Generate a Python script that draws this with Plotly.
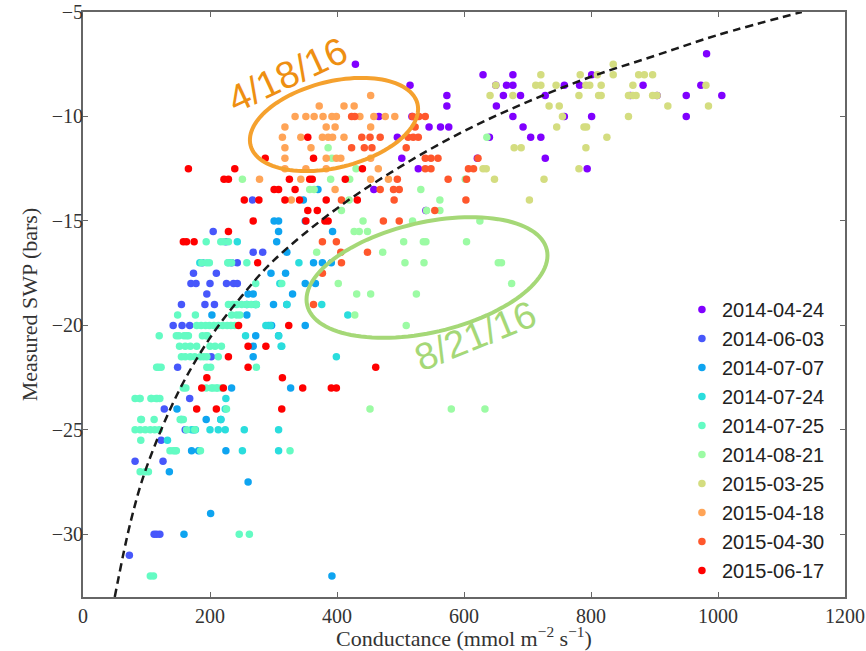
import math
import plotly.graph_objects as go

# ---------------- data ----------------
series_names = ["2014-04-24", "2014-06-03", "2014-07-07", "2014-07-24", "2014-07-25",
                "2014-08-21", "2015-03-25", "2015-04-18", "2015-04-30", "2015-06-17"]
series_colors = ["#8000ff", "#4757fb", "#0ea4f0", "#2adddd", "#64fbc3",
                 "#9cfba4", "#d4dd80", "#ffa457", "#ff572c", "#ff0000"]

d20140424 = [(429,-7.5),(515,-8.5),(573,-9),(573,-9.5),(518,-10),(466,-10),(545,-10.5),(563,-10.5),
             (576,-10.5),(495,-11),(502,-12),(528,-12.5),(458,-13.5),(630,-8),(651,-9.5),(640,-11),
             (621,-12),(540,-14.5),(677,-8),(650,-8.5),(667,-8.5),(677,-8.5),(662,-9),(689,-9),
             (801,-8),(758,-8.5),(782,-8.5),(728,-9),(862,-9),(882,-8.5),(904,-9),(950,-9),
             (973,-8.5),(1006,-9),(982,-7),(677,-10),(693,-10.5),(801,-10),(758,-10),(950,-10),
             (721,-11),(705,-11),(728,-12),(794,-12.5)]
d20140603 = [(205,-15.5),(225,-16),(268,-16.5),(283,-16.5),(174,-17.5),(210,-17.5),(170,-18),
             (178,-18),(200,-18),(226,-18),(237,-18),(243,-18),(195,-18.5),(155,-19),(192,-19),
             (207,-19),(267,-14),(234,-17),(243,-17),(188,-17),(142,-20),(156,-20),(168,-20),
             (202,-21.5),(149,-22),(168,-23.5),(128,-24),(161,-25),(123,-25.5),(82,-26.5),
             (126,-26.5),(112,-30),(116,-30),(121,-30),(73,-31)]
d20140707 = [(370,-13.5),(301,-15),(308,-15),(350,-15),(308,-15.5),(393,-15.5),(305,-16),
             (321,-16.5),(319,-17.5),(296,-17.5),(363,-17),(377,-17),(391,-17),(350,-18),
             (366,-18),(260,-18.5),(268,-18.5),(330,-18.5),(300,-19),(258,-19),(321,-19),
             (347,-14),(350,-20),(203,-19.5),(258,-19.5),(292,-20),(297,-20),(272,-20.5),
             (308,-20.5),(268,-21),(268,-21.5),(234,-23),(327,-23),(148,-24),(194,-24.5),
             (217,-24.5),(174,-25),(171,-26),(182,-26),(225,-26),(136,-27),(260,-27.5),
             (201,-29),(159,-30),(392,-32)]
d20140724 = [(243,-16),(184,-17),(229,-17),(340,-17),(321,-19),(376,-19),(273,-19),(310,-18),
             (417,-19.5),(399,-21.5),(312,-21),(225,-23.5),(256,-20.5),(295,-20),(271,-19),
             (224,-24),(200,-25),(213,-25),(224,-25),(254,-25),(308,-25),(313,-21),(308,-20.5),
             (217,-24.5),(171,-25),(177,-25),(133,-25.5),(251,-26),(308,-26),(155,-24.5),(288,-20)]
d20140725 = [(194,-16),(222,-16),(229,-16),(217,-16),
             (187,-17),(195,-17),(199,-17),(228,-17),(234,-17),(258,-17),
             (272,-18),(313,-18),
             (229,-19),(236,-19),(242,-19),(250,-19),(258,-19),(265,-19),(273,-19),
             (149,-19.5),(177,-19.5),(234,-19.5),(242,-19.5),(247,-19.5),
             (179,-20),(186,-20),(193,-20),(199,-20),(206,-20),(213,-20),(220,-20),(227,-20),(233,-20),(239,-20),
             (120,-20.5),(147,-20.5),(151,-20.5),(159,-20.5),(163,-20.5),(166,-20.5),(188,-20.5),(194,-20.5),(196,-20.5),
             (152,-21),(161,-21),(169,-21),(179,-21),(200,-21),(208,-21),(218,-21),
             (155,-21.5),(161,-21.5),(169,-21.5),(176,-21.5),(185,-21.5),(190,-21.5),(195,-21.5),(213,-21.5),
             (116,-22),(119,-22),(123,-22),(195,-22),(201,-22),(273,-22),
             (158,-23),(162,-23),(194,-23),(202,-23),(205,-23),(210,-23),(212,-23),(218,-23),
             (82,-23.5),(89,-23.5),(90,-23.5),(107,-23.5),(108,-23.5),(115,-23.5),(117,-23.5),(121,-23.5),
             (226,-24),
             (91,-24.5),(92,-24.5),(112,-24.5),(153,-24.5),(155,-24.5),(158,-24.5),
             (82,-25),(90,-25),(98,-25),(106,-25),(113,-25),(120,-25),(163,-25),(176,-25),
             (91,-25.5),
             (137,-26),(142,-26),(145,-26),(147,-26),(185,-26),(326,-26),
             (90,-27),(98,-27),(103,-27),
             (246,-30),(262,-30),
             (106,-32),(111,-32)]
d20140821 = [(386,-11.5),(392,-12),(251,-13),(390,-13),(357,-13.5),(364,-13.5),(532,-13.5),
             (407,-14.5),(430,-12.5),(562,-14),(541,-14.5),(419,-14),(420,-13),(602,-13),
             (636,-11),(562,-14.5),(441,-15),(519,-15),(427,-15.5),(435,-15.5),(448,-15.5),
             (368,-16.5),(472,-16.5),(505,-16),(536,-16),(540,-16),(604,-16),(507,-17),
             (537,-17),(654,-17),(659,-17),(402,-18),(431,-18.5),(453,-18.5),(525,-18.5),
             (428,-19.5),(509,-20),(452,-24),(580,-24),(633,-24),(675,-18),(625,-15)]
d20150325 = [(721,-8),(783,-8),(810,-8),(835,-7.5),(835,-8),(875,-8),(884,-8),(897,-8),
             (650,-8.5),(713,-8.5),(721,-8.5),(745,-8.5),(792,-8.5),(798,-8.5),(816,-8.5),
             (866,-8.5),(981,-8.5),(641,-9),(677,-9),(781,-9),(812,-9),(816,-9),(859,-9),
             (866,-9),(871,-9),(897,-9),(904,-9),(734,-9.5),(750,-9.5),(921,-9.5),(985,-9.5),
             (755,-10),(859,-10),(746,-10.5),(789,-10.5),(793,-10.5),(825,-11),(679,-11.5),
             (690,-11.5),(792,-11.5),(630,-12.5),(635,-12.5),(781,-12.5),(648,-13),(726,-13),
             (703,-14)]
d20150418 = [(453,-9),(372,-9.5),(411,-9.5),(427,-9.5),(334,-10),(351,-10),(364,-10),(378,-10),
             (392,-10),(399,-10),(436,-10),(458,-10),(476,-10),(491,-10),(318,-10.5),(383,-10.5),
             (397,-10.5),(453,-10.5),(314,-11),(343,-11),(377,-11),(386,-11),(393,-11),(411,-11),
             (318,-11.5),(359,-11.5),(318,-12),(383,-12),(399,-12),(406,-12),(453,-12),(318,-12.5),
             (351,-12.5),(383,-12.5),(465,-12.5),(278,-13),(343,-13),(453,-13),(481,-13),
             (397,-13.5),(328,-14)]
d20150430 = [(423,-10),(428,-10),(519,-10),(529,-10),(539,-10),(523,-10.5),(439,-11),(452,-11),
             (468,-11),(512,-11),(520,-11),(528,-11),(423,-11.5),(443,-11.5),(455,-11.5),
             (509,-11.5),(539,-12),(548,-12),(559,-12),(622,-12),(539,-12.5),(548,-12.5),
             (607,-12.5),(615,-12.5),(495,-13),(575,-13),(604,-13),(468,-13.5),(498,-13.5),
             (489,-13.5),(490,-14),(603,-14),(407,-14),(554,-14.5),(473,-15),(498,-15),
             (377,-16),(399,-16),(406,-16.5),(448,-16.5),(407,-17),(377,-17.5),(363,-19)]
d20150617 = [(166,-12.5),(239,-12.5),(354,-11),(287,-12),(363,-12),(222,-13),(229,-13),(325,-13),
             (357,-13),(361,-13),(413,-13),(440,-12.5),(301,-13.5),(308,-13.5),(334,-13.5),
             (254,-14),(277,-14),(318,-14),(341,-14),(383,-14),(432,-14),(354,-14.5),(369,-14.5),
             (351,-15),(381,-15),(386,-15),(268,-15),(229,-15.5),(158,-16),(163,-16),(175,-16),
             (275,-17),(245,-20),(324,-20),(260,-21),(288,-21),(229,-21.5),(260,-22),(461,-22),
             (195,-22.5),(314,-22.5),(187,-23),(221,-23),(346,-23),(391,-23),(399,-23),
             (179,-24),(210,-24),(313,-24)]

series_data = [d20140424, d20140603, d20140707, d20140724, d20140725,
               d20140821, d20150325, d20150418, d20150430, d20150617]

# dashed fit line
curve_x = [50, 75, 100, 150, 200, 250, 300, 400, 500, 600, 700, 800, 900, 1000, 1132]
curve_y = [-33.0, -29.4, -26.8, -23.2, -20.6, -18.6, -16.9, -14.4, -12.4, -10.7, -9.3, -8.1, -7.1, -6.1, -5.0]

x_ticks = [0, 200, 400, 600, 800, 1000, 1200]
y_ticks = [-30, -25, -20, -15, -10, -5]
x_range = [0, 1200]
y_range = [-33, -5]

# ---------------- layout geometry ----------------
W, H = 866, 651
ML, MR, MT, MB = 83, 21, 12, 54
PW, PH = W - ML - MR, H - MT - MB
sx = PW / (x_range[1] - x_range[0])   # px per x unit
sy = PH / (y_range[1] - y_range[0])   # px per y unit


def px_to_x(px):
    return x_range[0] + (px - ML) / sx


def py_to_y(py):
    return y_range[1] - (py - MT) / sy


def ellipse_path(cx, cy, a_px, b_px, ang_deg, n=120):
    """Ellipse with semi-axes in pixels, rotated counter-clockwise on screen."""
    t = math.radians(ang_deg)
    pts = []
    for i in range(n + 1):
        u = 2 * math.pi * i / n
        ex = a_px * math.cos(u)
        ey = b_px * math.sin(u)
        dx = ex * math.cos(t) - ey * math.sin(t)
        dy = ex * math.sin(t) + ey * math.cos(t)
        pts.append((cx + dx / sx, cy + dy / sy))
    return "M " + " L ".join(f"{x:.3f},{y:.3f}" for x, y in pts) + " Z"


fig = go.Figure()

for name, col, data in zip(series_names, series_colors, series_data):
    fig.add_trace(go.Scatter(
        x=[p[0] for p in data], y=[p[1] for p in data],
        mode="markers", name=name,
        marker=dict(color=col, size=7.5, line=dict(width=0)),
    ))

fig.add_trace(go.Scatter(
    x=curve_x, y=curve_y, mode="lines", showlegend=False,
    line=dict(color="#1a1a1a", width=2.5, dash="8px,5px", shape="spline"),
))

orange = "#f5a12e"
green = "#a5d877"

fig.add_shape(type="path", xref="x", yref="y",
              path=ellipse_path(px_to_x(334), py_to_y(124.5), 86, 43, 14),
              line=dict(color=orange, width=4))
fig.add_shape(type="path", xref="x", yref="y",
              path=ellipse_path(px_to_x(427), py_to_y(277.5), 123, 55, 13),
              line=dict(color=green, width=4))

fig.add_annotation(x=px_to_x(287), y=py_to_y(75), xref="x", yref="y",
                   text="4/18/16", showarrow=False, textangle=-25,
                   font=dict(family="Liberation Sans, Arial", size=38, color="#ee8f12"))
fig.add_annotation(x=px_to_x(475), y=py_to_y(336), xref="x", yref="y",
                   text="8/21/16", showarrow=False, textangle=-22,
                   font=dict(family="Liberation Sans, Arial", size=38, color=green))

serif = "Liberation Serif, Times New Roman, serif"
axis_common = dict(
    showline=True, linecolor="#666666", linewidth=2, mirror="ticks",
    ticks="inside", ticklen=5, tickwidth=1, tickcolor="#666666",
    showgrid=False, zeroline=False, automargin=False,
    tickfont=dict(family=serif, size=20, color="#333333"),
)

fig.update_layout(
    width=W, height=H,
    margin=dict(l=ML, r=MR, t=MT, b=MB),
    paper_bgcolor="white", plot_bgcolor="white",
    xaxis=dict(range=x_range, tickvals=x_ticks, **axis_common,
               title=dict(text="Conductance (mmol m<sup>−2</sup> s<sup>−1</sup>)", standoff=2,
                          font=dict(family=serif, size=22, color="#333333"))),
    yaxis=dict(range=y_range, tickvals=y_ticks, **axis_common,
               title=dict(text="Measured SWP (bars)", standoff=8,
                          font=dict(family=serif, size=22, color="#333333"))),
    legend=dict(x=0.786, y=0.525, xanchor="left", yanchor="top",
                bgcolor="rgba(0,0,0,0)", borderwidth=0,
                font=dict(family="Liberation Sans, Arial, sans-serif", size=20, color="#222222"),
                itemsizing="trace"),
    showlegend=True,
)
fig.update_yaxes(ticklabelstandoff=-6)

fig.write_html("out.html", config={"displayModeBar": False},
               post_script="document.body.style.margin='0';")
